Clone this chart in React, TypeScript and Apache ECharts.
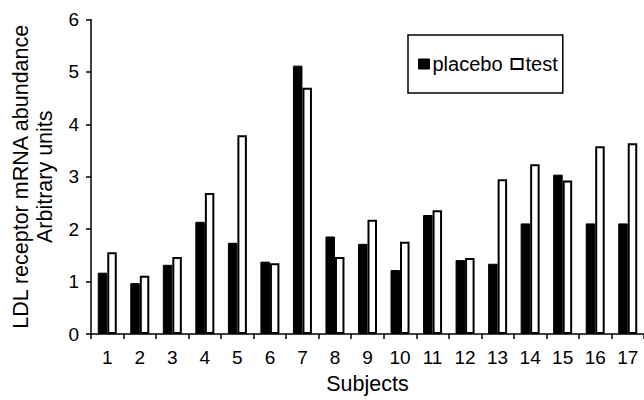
import React, { useEffect, useRef } from "react";
import * as echarts from "echarts";

const subjects = ["1","2","3","4","5","6","7","8","9","10","11","12","13","14","15","16","17"];
const placebo = [1.17, 0.97, 1.32, 2.14, 1.74, 1.38, 5.12, 1.86, 1.72, 1.22, 2.27, 1.41, 1.34, 2.11, 3.04, 2.11, 2.11];
const test = [1.56, 1.11, 1.47, 2.69, 3.79, 1.35, 4.70, 1.47, 2.18, 1.76, 2.36, 1.45, 2.95, 3.24, 2.93, 3.58, 3.64];

const FONT = "Liberation Sans, Arial, sans-serif";

export default function App() {
  const ref = useRef<HTMLDivElement>(null);
  useEffect(() => {
    if (!ref.current) return;
    const chart = echarts.init(ref.current, undefined, { renderer: "svg" });
    chart.setOption({
      animation: false,
      backgroundColor: "#fff",
      textStyle: { fontFamily: FONT, color: "#000" },
      legend: {
        left: 408,
        top: 35,
        orient: "horizontal",
        padding: [19, 5, 19, 10],
        borderColor: "#000",
        borderWidth: 1.5,
        itemGap: 8,
        itemWidth: 11,
        itemHeight: 10,
        icon: "rect",
        textStyle: { fontFamily: FONT, fontSize: 20, lineHeight: 20, color: "#000", padding: [0, 0, 0, -2] },
        data: [
          { name: "placebo", itemStyle: { color: "#000", borderColor: "#000", borderWidth: 1 } },
          { name: "test", itemStyle: { color: "#fff", borderColor: "#000", borderWidth: 2 } },
        ],
      },
      grid: { left: 91, right: 0, top: 19.5, bottom: 60, containLabel: false },
      xAxis: {
        type: "category",
        data: subjects,
        boundaryGap: true,
        name: "Subjects",
        nameLocation: "middle",
        nameGap: 39,
        nameTextStyle: { fontFamily: FONT, fontSize: 21.5, color: "#000", verticalAlign: "top" },
        axisLine: { show: true, lineStyle: { color: "#000", width: 1.5 } },
        axisTick: { show: true, inside: false, length: 5, interval: 0, lineStyle: { color: "#000", width: 1.5 } },
        axisLabel: { fontFamily: FONT, fontSize: 19, color: "#000", margin: 14, interval: 0 },
        splitLine: { show: false },
      },
      yAxis: {
        type: "value",
        min: 0,
        max: 6,
        interval: 1,
        name: "LDL receptor mRNA abundance\nArbitrary units",
        nameLocation: "middle",
        nameRotate: 90,
        nameGap: 34,
        nameTextStyle: { fontFamily: FONT, fontSize: 21.5, color: "#000", lineHeight: 24, align: "center" },
        axisLine: { show: true, lineStyle: { color: "#000", width: 1.5 } },
        axisTick: { show: true, inside: false, length: 5, lineStyle: { color: "#000", width: 1.5 } },
        axisLabel: { fontFamily: FONT, fontSize: 19, color: "#000", margin: 12 },
        splitLine: { show: false },
      },
      series: [
        {
          name: "placebo",
          type: "bar",
          data: placebo,
          barWidth: 9.5,
          barGap: "0%",
          itemStyle: { color: "#000", borderColor: "#000", borderWidth: 1 },
        },
        {
          name: "test",
          type: "bar",
          data: test,
          barWidth: 9.5,
          barGap: "0%",
          itemStyle: { color: "#fff", borderColor: "#000", borderWidth: 2 },
        },
      ],
    });
    return () => chart.dispose();
  }, []);
  return <div ref={ref} style={{ position: "fixed", left: 0, top: 0, width: 644, height: 400 }} />;
}
